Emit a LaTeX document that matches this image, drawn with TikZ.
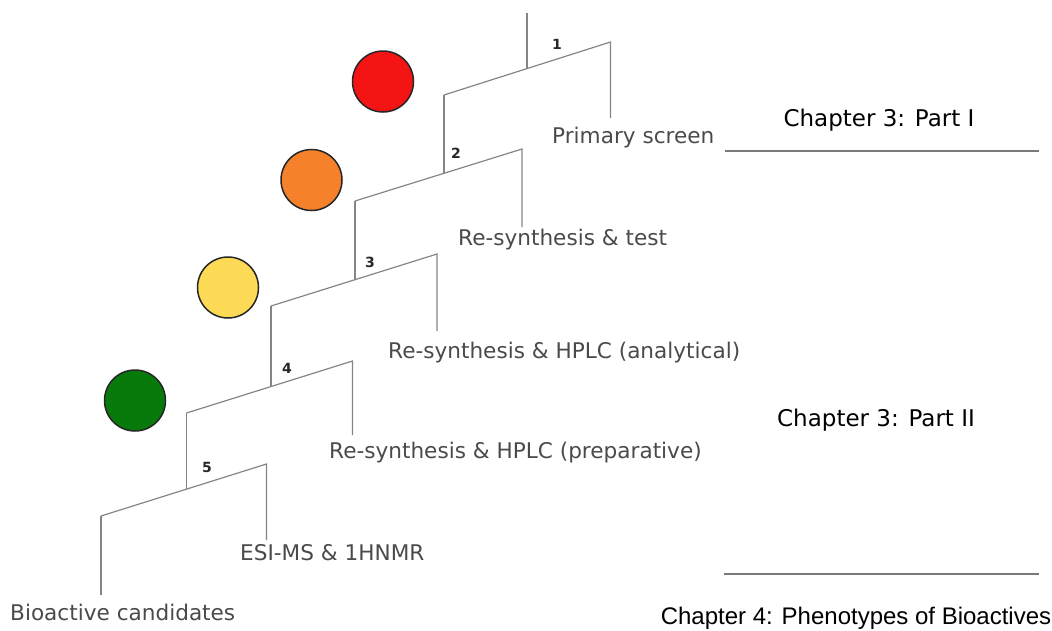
\documentclass[tikz,border=0pt]{standalone}
\usepackage{fontspec}
\setmainfont{DejaVu Sans}
\newfontfamily\arialfont{Liberation Sans}
\usetikzlibrary{calc}
\definecolor{branch}{HTML}{858585}
\definecolor{steptext}{HTML}{4A4A4A}
\definecolor{rule}{HTML}{7A7A7A}
\definecolor{cred}{HTML}{F51414}
\definecolor{corange}{HTML}{F5822A}
\definecolor{cyellow}{HTML}{FCDA55}
\definecolor{cgreen}{HTML}{087A0C}
\tikzset{
  branchline/.style={draw=branch, line width=1.2pt},
  steplabel/.style={text=steptext, font=\fontsize{21.6}{24}\selectfont, inner sep=0pt},
  stepnum/.style={text=black!85, font=\bfseries\fontsize{14}{16}\selectfont, inner sep=0pt},
  chapter/.style={text=black, font=\fontsize{23}{26}\selectfont, inner sep=0pt},
  rulerline/.style={draw=rule, line width=2pt},
  lamp/.style={circle, draw=black!85, line width=1.5pt, minimum size=61pt, inner sep=0pt},
}
\begin{document}
\begin{tikzpicture}[x=1pt, y=-1pt]
  \useasboundingbox (0,0) rectangle (1052,630);

  % bracket end points (left, right) of each step
  \coordinate (top) at (527,13);
  \coordinate (L1) at (444,95);    \coordinate (R1) at (610.5,42);
  \coordinate (L2) at (355,201);   \coordinate (R2) at (522,149);
  \coordinate (L3) at (271,306);   \coordinate (R3) at (437,254);
  \coordinate (L4) at (186.5,413); \coordinate (R4) at (352.5,361);
  \coordinate (L5) at (101,516);   \coordinate (R5) at (266.5,464);

  % junctions where each stem meets the next bracket
  \coordinate (J1) at ($(L1)!0.4985!(R1)$);
  \coordinate (J2) at ($(L2)!0.533!(R2)$);
  \coordinate (J3) at ($(L3)!0.506!(R3)$);
  \coordinate (J4) at ($(L4)!0.509!(R4)$);
  \coordinate (J5) at ($(L5)!0.517!(R5)$);

  % free ends of the dropped branches
  \coordinate (E1) at (610.5,118);
  \coordinate (E2) at (522,227);
  \coordinate (E3) at (437,331);
  \coordinate (E4) at (352.5,435);
  \coordinate (E5) at (266.5,540);
  \coordinate (E6) at (101,595);

  % traffic-light circles
  \node[lamp, fill=cred]    (red)    at (383,81.5) {};
  \node[lamp, fill=corange] (orange) at (311.5,180) {};
  \node[lamp, fill=cyellow] (yellow) at (228,287.5) {};
  \node[lamp, fill=cgreen]  (green)  at (135,400.5) {};

  % the cascade of filtering steps
  \draw[branchline] (top) -- (top |- J1);
  \draw[branchline] (L1) -- (R1) -- (E1);
  \draw[branchline] (L1) -- (L1 |- J2);
  \draw[branchline] (L2) -- (R2) -- (E2);
  \draw[branchline] (L2) -- (L2 |- J3);
  \draw[branchline] (L3) -- (R3) -- (E3);
  \draw[branchline] (L3) -- (L3 |- J4);
  \draw[branchline] (L4) -- (R4) -- (E4);
  \draw[branchline] (L4) -- (L4 |- J5);
  \draw[branchline] (L5) -- (R5) -- (E5);
  \draw[branchline] (L5) -- (E6);

  % step numbers
  \node[stepnum] (n1) at (557,44.5) {1};
  \node[stepnum] (n2) at (456,153) {2};
  \node[stepnum] (n3) at (370,262) {3};
  \node[stepnum] (n4) at (287,368.5) {4};
  \node[stepnum] (n5) at (207,467) {5};

  % step labels
  \node[steplabel, anchor=west] (s1) at (552,138) {Primary screen};
  \node[steplabel, anchor=west] (s2) at (458,240) {Re-synthesis \& test};
  \node[steplabel, anchor=west] (s3) at (388,353) {Re-synthesis \& HPLC (analytical)};
  \node[steplabel, anchor=west] (s4) at (329,453) {Re-synthesis \& HPLC (preparative)};
  \node[steplabel, anchor=west] (s5) at (240,553) {ESI-MS \& 1HNMR};
  \node[steplabel, anchor=west] (s6) at (10,612) {Bioactive candidates};

  % chapter divisions
  \node[chapter] (c1) at (879,120) {Chapter 3: Part I};
  \node[chapter] (c2) at (876,420) {Chapter 3: Part II};
  \node[chapter, font=\arialfont\fontsize{24}{27}\selectfont] (c3) at (856,618) {Chapter 4: Phenotypes of Bioactives};
  \coordinate (r1a) at (725,151); \coordinate (r1b) at (1039,151);
  \coordinate (r2a) at (724,574); \coordinate (r2b) at (1039,574);
  \draw[rulerline] (r1a) -- (r1b);
  \draw[rulerline] (r2a) -- (r2b);
\end{tikzpicture}
\end{document}
